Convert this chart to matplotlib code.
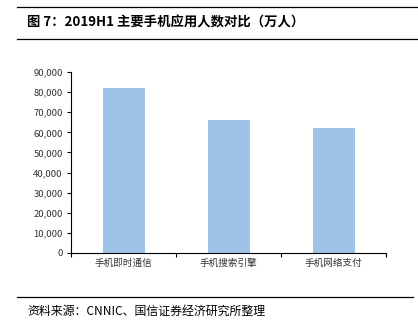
import matplotlib
matplotlib.use("Agg")
import matplotlib.pyplot as plt
from matplotlib.lines import Line2D
from matplotlib.ticker import FuncFormatter, FixedLocator

plt.rcParams['font.family'] = ['Noto Sans CJK SC', 'DejaVu Sans']

# 2019H1 users of main mobile apps (10k people)
categories = ['手机即时通信', '手机搜索引擎', '手机网络支付']
users = [82069, 66202, 62127]
yticks = list(range(0, 90001, 10000))

W, H = 418, 327
fig = plt.figure(figsize=(W / 100, H / 100), dpi=100)
ax = fig.add_axes([71 / W, 1 - 253 / H, (386 - 71) / W, (253 - 72) / H])

x = list(range(len(categories)))
ax.bar(x, users, width=0.4, color='#9DC3E6')

ax.set_xlim(-0.5, len(categories) - 0.5)
ax.set_ylim(0, 90000)
ax.set_yticks(yticks)
ax.yaxis.set_major_formatter(FuncFormatter(lambda v, p: f'{int(v):,}'))
ax.set_xticks(x)
ax.set_xticklabels(categories, fontsize=6.9, color='#333333')
ax.tick_params(axis='x', length=0, pad=4)
ax.xaxis.set_minor_locator(FixedLocator([i - 0.5 for i in range(len(categories) + 1)]))
ax.tick_params(axis='x', which='minor', length=3, width=0.8, direction='out')
ax.tick_params(axis='y', labelsize=6.8, labelcolor='#333333', length=3,
               width=0.8, direction='out', pad=3)
for s in ['top', 'right']:
    ax.spines[s].set_visible(False)
for s in ['left', 'bottom']:
    ax.spines[s].set_linewidth(0.8)

# header / footer rules and text
fig.add_artist(Line2D([17 / W, 1], [1 - 7 / H] * 2, color='black', lw=0.9))
fig.add_artist(Line2D([17 / W, 1], [1 - 39 / H] * 2, color='black', lw=0.9))
fig.text(27 / W, 1 - 23 / H, '图 7：2019H1 主要手机应用人数对比（万人）',
         fontsize=9.6, fontweight='bold', va='center', ha='left')
fig.add_artist(Line2D([17 / W, 413 / W], [1 - 297 / H] * 2, color='black', lw=0.9))
fig.text(27 / W, 1 - 311 / H, '资料来源：CNNIC、国信证券经济研究所整理',
         fontsize=8.6, va='center', ha='left')

fig.savefig('out.png', dpi=100)
